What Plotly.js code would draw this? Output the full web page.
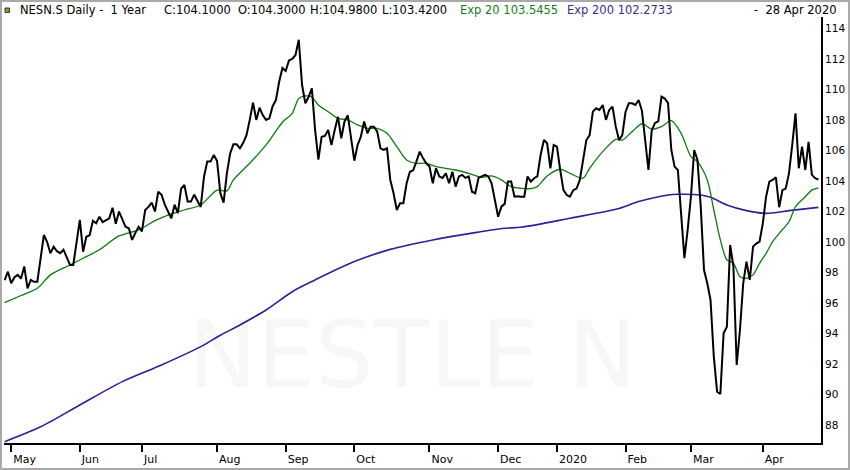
<!DOCTYPE html>
<html><head><meta charset="utf-8">
<script src="https://cdn.plot.ly/plotly-3.0.1.min.js"></script>
<style>
body{margin:0;background:#fff}
#wrap{position:relative;width:850px;height:470px}
#chart{width:850px;height:470px}
#frame{position:absolute;left:0;top:0;width:846px;height:466px;border:2px solid #a9a9a9;pointer-events:none}
</style>
</head><body>
<div id="wrap"><div id="chart"></div><div id="frame"></div></div>
<script>
// Daily closes, trading days 29 Apr 2019 .. 28 Apr 2020 (index 0..249)
const closes = [
97.5,98.06,97.3,97.7,97.85,97.6,98.4,96.97,97.52,97.4,
97.4,99.0,100.46,100.0,99.27,99.7,99.4,99.27,99.5,99.0,
98.5,98.5,100.0,101.45,99.37,100.35,100.45,101.4,101.23,101.66,
101.3,101.45,101.55,102.25,101.2,102.0,101.5,101.0,100.9,100.14,
100.6,101.0,100.7,102.1,102.3,102.58,102.0,103.3,103.1,102.45,
102.0,101.55,102.45,101.9,103.5,103.74,102.65,102.65,103.1,102.65,
102.3,104.28,105.27,105.27,105.7,105.3,103.2,102.58,104.5,105.8,
106.4,106.4,106.14,106.5,107.0,108.0,109.13,108.0,108.8,108.3,
108.0,108.1,108.9,109.3,110.5,111.4,111.2,111.9,112.0,112.25,
113.25,110.3,109.09,109.5,110.07,107.34,105.4,106.9,106.95,107.34,
106.36,107.34,108.2,106.8,107.9,108.3,106.9,105.33,106.36,106.9,
107.9,107.12,107.56,107.56,107.23,106.14,106.03,106.14,104.07,103.2,
102.1,102.54,102.54,103.85,104.6,104.7,105.27,105.92,105.5,105.16,
104.95,103.85,104.83,104.3,104.2,104.5,103.85,104.6,103.63,104.3,
104.4,104.2,104.3,103.3,103.2,104.2,104.3,104.4,104.3,103.85,
102.76,101.66,102.32,102.5,103.96,103.96,102.97,103.0,102.97,102.97,
104.3,103.96,104.18,104.3,105.7,106.68,106.47,104.83,106.36,106.25,
104.72,103.4,103.08,102.97,103.4,103.5,104.07,105.38,106.68,107.0,
108.54,108.76,108.65,108.98,108.0,108.65,108.87,107.56,106.68,107.0,
108.54,109.09,109.09,108.98,109.3,108.6,106.8,104.72,107.3,107.8,
107.9,109.52,109.4,109.1,106.03,104.94,104.72,101.66,98.94,100.8,
102.97,106.03,105.38,102.32,98.17,97.3,96.2,92.5,90.2,90.05,
94.03,94.46,99.81,98.4,91.95,94.24,97.3,98.72,97.52,99.7,
99.9,100.03,101.23,102.97,103.96,104.07,104.24,102.28,103.4,103.5,
104.5,106.36,108.43,104.83,106.25,104.72,106.57,104.4,104.18,104.1
];

// Exp 20 (read at selected trading-day indices)
const ema20Idx = [0,5,10,14,20,24,29,35,41,46,50,55,60,65,68,70,75,80,85,88,90,92,94,96,99,102,105,108,111,114,117,120,123,126,129,132,135,138,142,146,149,152,155,158,161,163,166,170,173,177,179,183,187,189,192,195,198,201,204,207,210,212,215,217,219,221,223,225,227,229,231,233,235,237,240,242,245,247,249];
const ema20 = [96.03,96.5,96.97,97.85,98.5,98.94,99.5,100.4,100.8,101.4,101.77,102.1,102.43,103.4,103.35,104.07,105.16,106.36,107.85,108.43,109.4,109.57,109.5,108.98,108.54,108.1,108.0,107.67,107.45,107.45,107.12,106.25,105.38,105.16,105.16,104.94,104.83,104.72,104.5,104.24,104.33,104.07,103.63,103.52,103.5,103.63,104.33,104.77,104.5,104.18,104.83,105.92,106.73,106.68,107.23,107.75,107.4,107.56,107.95,107.12,105.6,105.27,104.07,102.1,100.14,98.83,98.61,97.73,97.63,97.85,98.61,99.26,100.03,100.57,101.33,102.32,102.97,103.4,103.55];

// Exp 200
const ema200Idx = [0,11,23,36,48,60,66,72,80,88,95,107,118,131,144,153,158,173,188,194,203,206,213,216,221,227,233,240,249];
const ema200 = [86.93,87.9,89.33,90.86,91.95,93.15,93.9,94.57,95.55,96.75,97.52,98.72,99.52,100.14,100.62,100.9,100.97,101.56,102.2,102.65,103.08,103.13,103.08,102.93,102.43,102.06,101.88,102.06,102.27];

const monthTickIdx = [2,23,42,65,86,107,130,151,169,190,210,232];
const monthTickText = ['May','Jun','Jul','Aug','Sep','Oct','Nov','Dec','2020','Feb','Mar','Apr'];
const priceTicks = [88,90,92,94,96,98,100,102,104,106,108,110,112,114];

const header = {
  title: 'NESN.S Daily -\u00a0 1 Year',
  close: 'C:104.1000', open: 'O:104.3000', high: 'H:104.9800', low: 'L:103.4200',
  exp20: 'Exp 20 103.5455', exp200: 'Exp 200 102.2733', date: '-\u00a0 28 Apr 2020'
};

const idx = closes.map((_, i) => i);

// pixel helpers for the 850x470 canvas
const L = 4, R = 29, T = 17, B = 27, W = 850 - L - R, H = 470 - T - B;
const px = v => (v - L) / W;
const py = v => (470 - B - v) / H;

const FONT = 'DejaVu Sans, Verdana, sans-serif';
const hdr = (text, x, color, anchor) => ({
  xref: 'paper', yref: 'paper', x: px(x), y: py(10), xanchor: anchor || 'left', yanchor: 'middle',
  text: text, showarrow: false, font: {family: FONT, size: 11.5, color: color || '#000'}
});

const traces = [
  {x: ema200Idx, y: ema200, type: 'scatter', mode: 'lines', line: {color: '#3a1a9a', width: 1.6, shape: 'spline', smoothing: 0.8}, hoverinfo: 'skip'},
  {x: ema20Idx, y: ema20, type: 'scatter', mode: 'lines', line: {color: '#0f7a0f', width: 1.3, shape: 'spline', smoothing: 0.8}, hoverinfo: 'skip'},
  {x: idx, y: closes, type: 'scatter', mode: 'lines', line: {color: '#000', width: 2}, hoverinfo: 'skip'}
];

const layout = {
  width: 850, height: 470,
  margin: {l: L, r: R, t: T, b: B, pad: 0},
  paper_bgcolor: '#fff', plot_bgcolor: '#fff',
  showlegend: false,
  xaxis: {
    range: [-0.2, 249.8], showgrid: false, zeroline: false,
    showline: true, linecolor: '#000', linewidth: 2,
    tickmode: 'array', tickvals: monthTickIdx, ticktext: monthTickText,
    ticks: 'outside', ticklen: 7, tickwidth: 2, tickcolor: '#000',
    ticklabelposition: 'outside right', ticklabelstandoff: 5,
    tickfont: {family: FONT, size: 11, color: '#000'}, fixedrange: true
  },
  yaxis: {
    side: 'right', range: [86.84, 114.74], showgrid: false, zeroline: false,
    showline: true, linecolor: '#000', linewidth: 2,
    tickmode: 'array', tickvals: priceTicks, ticktext: priceTicks.map(String),
    ticks: '', tickfont: {family: FONT, size: 10.5, color: '#000'}, fixedrange: true
  },
  shapes: [
    {type: 'rect', xref: 'paper', yref: 'paper', x0: px(5), x1: px(9.5), y0: py(12.5), y1: py(8), fillcolor: '#9a9a2a', line: {color: '#333', width: 1}}
  ],
  annotations: [
    {xref: 'paper', yref: 'paper', x: px(412), y: py(355), xanchor: 'center', yanchor: 'middle',
     text: 'NESTLE N', showarrow: false, font: {family: FONT, size: 92, color: 'rgba(0,0,0,0.03)'}},
    hdr(header.title, 18),
    hdr(header.close, 162),
    hdr(header.open, 236),
    hdr(header.high, 308),
    hdr(header.low, 380),
    hdr(header.exp20, 458, '#1a7a1a'),
    hdr(header.exp200, 565, '#3a2a8a'),
    hdr(header.date, 839, '#000', 'right')
  ]
};

Plotly.newPlot('chart', traces, layout, {displayModeBar: false, staticPlot: true});
</script>
</body></html>
